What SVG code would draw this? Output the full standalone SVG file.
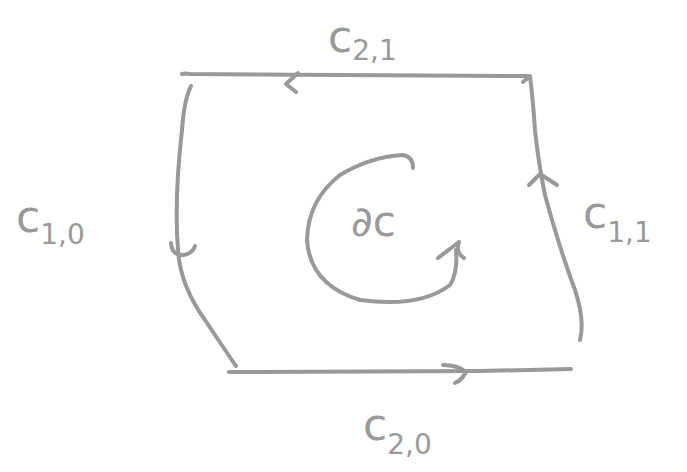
<svg xmlns="http://www.w3.org/2000/svg" width="687" height="472" viewBox="0 0 687 472">
<style>
.s{fill:none;stroke:#999;stroke-width:4;stroke-linecap:round;stroke-linejoin:round}
.t{fill:#999;font-family:"DejaVu Sans","Liberation Sans",sans-serif}
.big{font-size:44px}
.sub{font-size:28px}
</style>
<rect width="687" height="472" fill="#fff"/>
<g id="connectors">
<path id="top-edge" class="s" d="M182,74 Q186,73 190,74 L528,76"/>
<path class="s" d="M298,73 L286,84 L296,92"/>
<path id="left-edge" class="s" d="M191,86 Q184,100 182,130 Q174,200 178,250 Q180,285 205,320 Q225,350 236,366"/>
<path class="s" d="M171,243 Q172,256 184,255 Q193,253 195,246"/>
<path id="bottom-edge" class="s" d="M229,372 L480,371 L571,369"/>
<path class="s" d="M443,365 Q458,365 466,372 Q462,380 455,383"/>
<path id="right-edge" class="s" d="M523,82 L530,76 Q533,100 535,130 Q538,160 545,195 Q560,250 575,290 Q585,320 580,340"/>
<path class="s" d="M529,185 L540,174 L557,185"/>
</g>
<g id="boundary">
<path class="s" d="M413,168 Q413,156 402,155 Q370,157 340,175 Q308,200 307,240 Q310,285 360,300 Q420,308 450,285 Q458,272 456,250"/>
<path class="s" d="M438,258 L459,242"/>
<path class="s" d="M459,242 Q455,252 464,258"/>
<text class="t" x="351" y="236" font-size="42">∂c</text>
</g>
<g id="label-c21"><text class="t" x="328" y="52"><tspan class="big">c</tspan><tspan class="sub" dy="8">2,1</tspan></text></g>
<g id="label-c10"><text class="t" x="16" y="232"><tspan class="big">c</tspan><tspan class="sub" dy="12">1,0</tspan></text></g>
<g id="label-c11"><text class="t" x="583" y="228"><tspan class="big">c</tspan><tspan class="sub" dy="14">1,1</tspan></text></g>
<g id="label-c20"><text class="t" x="363" y="440"><tspan class="big">c</tspan><tspan class="sub" dy="14">2,0</tspan></text></g>
</svg>
